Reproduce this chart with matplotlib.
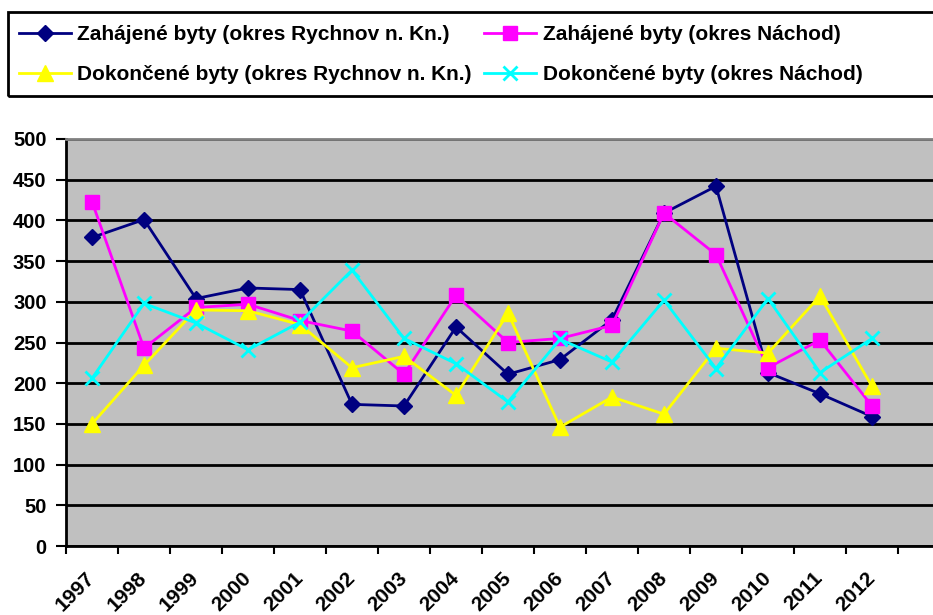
import numpy as np
import matplotlib
matplotlib.use("Agg")
import matplotlib.pyplot as plt
import matplotlib.transforms as mtrans
from matplotlib.patches import Rectangle

years = ["1997", "1998", "1999", "2000", "2001", "2002", "2003", "2004",
         "2005", "2006", "2007", "2008", "2009", "2010", "2011", "2012"]
zah_rychnov = [379, 401, 304, 317, 315, 174, 172, 269, 211, 229, 278, 409, 442, 213, 187, 159]
zah_nachod = [423, 243, 293, 297, 277, 264, 211, 308, 250, 255, 271, 409, 358, 219, 253, 172]
dok_rychnov = [150, 222, 290, 289, 272, 219, 233, 185, 286, 146, 183, 162, 243, 237, 307, 196]
dok_nachod = [206, 298, 274, 241, 275, 339, 255, 224, 177, 254, 226, 302, 218, 304, 213, 255]

labels = ["Zahájené byty (okres Rychnov n. Kn.)", "Zahájené byty (okres Náchod)",
          "Dokončené byty (okres Rychnov n. Kn.)", "Dokončené byty (okres Náchod)"]

plt.rcParams['font.family'] = ['Liberation Sans', 'DejaVu Sans']
plt.rcParams['font.weight'] = 'bold'

W, H = 933, 615
fig = plt.figure(figsize=(W / 100, H / 100), dpi=100)

left, right, top, bottom = 66, 950, 139, 546
ax = fig.add_axes([left / W, (H - bottom) / H, (right - left) / W, (bottom - top) / H])
ax.set_facecolor('#C0C0C0')

x = np.arange(len(years))
lw = 2.0
l0, = ax.plot(x, zah_rychnov, color='#000080', lw=lw, marker='D', ms=8, label=labels[0], zorder=3)
l1, = ax.plot(x, zah_nachod, color='#FF00FF', lw=lw, marker='s', ms=10, label=labels[1], zorder=3)
l2, = ax.plot(x, dok_rychnov, color='#FFFF00', lw=lw, marker='^', ms=11, label=labels[2], zorder=3)
l3, = ax.plot(x, dok_nachod, color='#00FFFF', lw=lw, marker='x', ms=10, mew=2, label=labels[3], zorder=3)

ax.set_xlim(-0.5, 16.5)
ax.set_ylim(0, 500)
ax.set_yticks(np.arange(0, 501, 50))
ax.yaxis.grid(True, color='black', lw=2)
ax.set_axisbelow(True)

ax.set_xticks(np.arange(-0.5, 17, 1))
ax.set_xticklabels([])
ax.set_xticks(x, minor=True)
ax.set_xticklabels(years, minor=True, rotation=45, ha='right', va='center',
                   rotation_mode='anchor', fontsize=15, fontweight='bold')
offset = mtrans.ScaledTranslation(-9 / 100, 0, fig.dpi_scale_trans)
for lab in ax.get_xticklabels(minor=True):
    lab.set_transform(lab.get_transform() + offset)
ax.tick_params(axis='x', which='major', direction='out', length=6, width=1.5)
ax.tick_params(axis='x', which='minor', length=0, pad=21)
ax.tick_params(axis='y', direction='out', length=7, width=1.5, labelsize=14.5, pad=7)
for lab in ax.get_yticklabels():
    lab.set_fontweight('bold')

for s in ['left', 'bottom']:
    ax.spines[s].set_color('black')
    ax.spines[s].set_linewidth(2)
ax.spines['top'].set_color('#808080')
ax.spines['top'].set_linewidth(2)
ax.spines['right'].set_visible(False)

# legend box
fig.patches.append(Rectangle((8 / W, (H - 96) / H), 1.0, (96 - 12) / H,
                             transform=fig.transFigure, fill=False,
                             edgecolor='black', lw=2))
handles = [l0, l2, l1, l3]
leg = fig.legend(handles, [h.get_label() for h in handles],
                 loc='upper left', bbox_to_anchor=(19 / W, (H - 25) / H),
                 ncol=2, frameon=False, fontsize=15, handlelength=2.5,
                 handletextpad=0.3, columnspacing=0.6, labelspacing=1.0,
                 borderaxespad=0, borderpad=0.0)
for t in leg.get_texts():
    t.set_fontweight('bold')

fig.savefig('out.png', dpi=100)
